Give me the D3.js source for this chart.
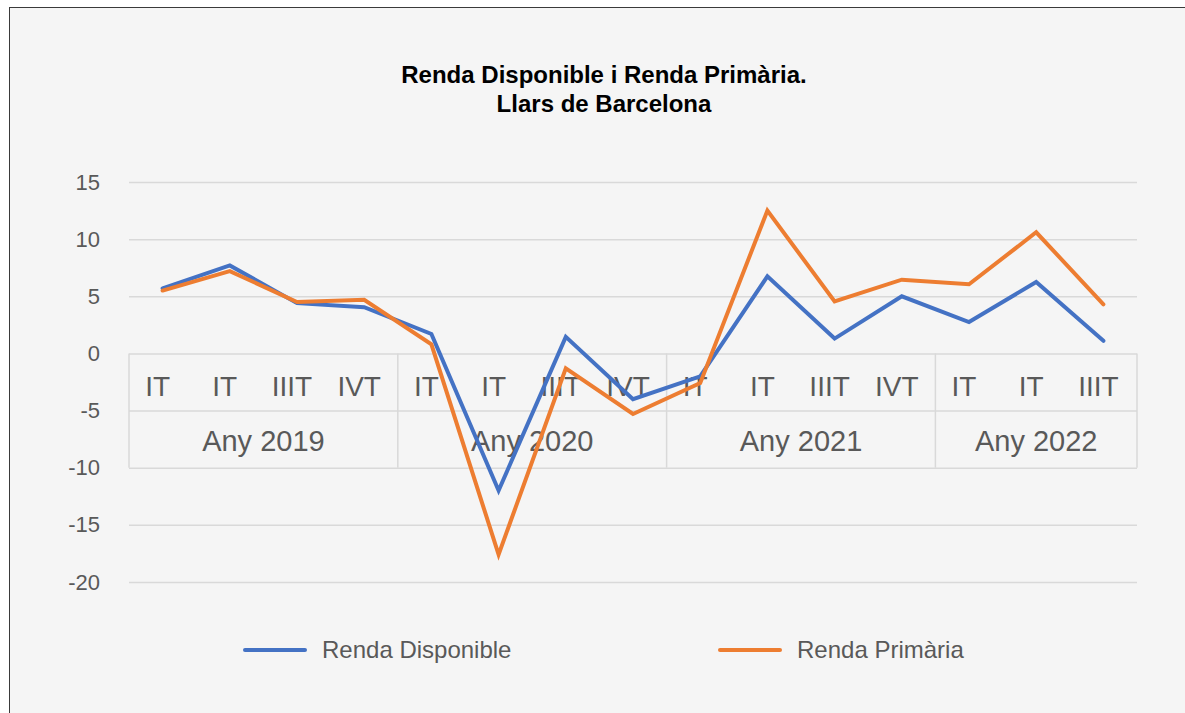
<!DOCTYPE html>
<html>
<head>
<meta charset="utf-8">
<script src="https://cdn.jsdelivr.net/npm/d3@7"></script>
<style>
  html, body { margin: 0; padding: 0; background: #ffffff; }
  svg { display: block; }
</style>
</head>
<body>
<svg id="chart" width="1185" height="713"></svg>
<script>
const quarters = ["IT","IT","IIIT","IVT","IT","IT","IIIT","IVT","IT","IT","IIIT","IVT","IT","IT","IIIT"];
const yearOf   = ["Any 2019","Any 2019","Any 2019","Any 2019","Any 2020","Any 2020","Any 2020","Any 2020","Any 2021","Any 2021","Any 2021","Any 2021","Any 2022","Any 2022","Any 2022"];
const years = ["Any 2019","Any 2020","Any 2021","Any 2022"];
const rendaDisponible = [5.7, 7.7, 4.4, 4.05, 1.7, -12.0, 1.45, -4.0, -2.0, 6.75, 1.3, 5.0, 2.75, 6.25, 1.1];
const rendaPrimaria   = [5.5, 7.2, 4.5, 4.7, 0.8, -17.6, -1.3, -5.3, -2.6, 12.5, 4.55, 6.45, 6.05, 10.6, 4.3];
const yTicks = [15, 10, 5, 0, -5, -10, -15, -20];
const seriesNames = ["Renda Disponible", "Renda Primària"];
const titleLines = ["Renda Disponible i Renda Primària.", "Llars de Barcelona"];

const svg = d3.select("#chart");
const colors = ["#4472C4", "#ED7D31"];
const textCol = "#595959";
const gridCol = "#d9d9d9";
const font = "'Liberation Sans', Arial, Helvetica, sans-serif";

// frame
svg.append("rect").attr("x", 9.5).attr("y", 7.5).attr("width", 1300).attr("height", 800)
  .attr("fill", "#f5f5f5").attr("stroke", "#3a3a3a").attr("stroke-width", 1);

const left = 129, right = 1137;
const x = d3.scaleBand().domain(d3.range(quarters.length)).range([left, right]).padding(0);
const y = d3.scaleLinear().domain([-20, 15]).range([582, 182]);
const cx = i => x(i) + x.bandwidth() / 2;

// title
svg.append("text").attr("y", 83).attr("text-anchor", "middle")
  .attr("font-family", font).attr("font-weight", "bold").attr("font-size", 24).attr("fill", "#000")
  .selectAll("tspan").data(titleLines).join("tspan")
  .attr("x", 604).attr("dy", (d, i) => i === 0 ? 0 : 29).text(d => d);

// y grid + labels
const yAxis = d3.axisLeft(y).tickValues(yTicks).tickSize(-(right - left)).tickPadding(29)
  .tickFormat(d => String(d));
const ga = svg.append("g").attr("transform", `translate(${left},0)`).call(yAxis);
ga.select(".domain").remove();
ga.selectAll(".tick line").attr("stroke", gridCol).attr("stroke-width", 1.5);
ga.selectAll(".tick text").attr("font-family", font).attr("font-size", 22).attr("fill", textCol);

// category table
const t0 = y(0), t1 = y(-5), t2 = y(-10);
const tbl = svg.append("g").attr("stroke", gridCol).attr("stroke-width", 1.5);
const yearStart = years.map(yr => yearOf.indexOf(yr));
const bounds = yearStart.map(i => x(i)).concat([right]);
tbl.selectAll("line.v").data(bounds).join("line")
  .attr("x1", d => d).attr("x2", d => d).attr("y1", t0).attr("y2", t2);

// quarter labels
svg.append("g").selectAll("text").data(quarters).join("text")
  .attr("x", (d, i) => cx(i) - 5).attr("y", (t0 + t1) / 2 + 14)
  .attr("text-anchor", "middle").attr("font-family", font).attr("font-size", 28).attr("fill", textCol)
  .text(d => d);

// year labels
svg.append("g").selectAll("text").data(years).join("text")
  .attr("x", (d, k) => (bounds[k] + bounds[k + 1]) / 2).attr("y", (t1 + t2) / 2 + 12)
  .attr("text-anchor", "middle").attr("font-family", font).attr("font-size", 29).attr("fill", textCol)
  .text(d => d);

// lines
const series = [rendaDisponible, rendaPrimaria];
const line = d3.line().x((d, i) => cx(i)).y(d => y(d));
svg.append("g").selectAll("path").data(series).join("path")
  .attr("d", d => line(d)).attr("fill", "none")
  .attr("stroke", (d, i) => colors[i]).attr("stroke-width", 4)
  .attr("stroke-linejoin", "miter").attr("stroke-linecap", "round");

// legend
const legendX = [245, 720];
const lg = svg.append("g").selectAll("g").data(seriesNames).join("g")
  .attr("transform", (d, i) => `translate(${legendX[i]},650)`);
lg.append("line").attr("x1", 0).attr("x2", 60).attr("y1", 0).attr("y2", 0)
  .attr("stroke", (d, i) => colors[i]).attr("stroke-width", 4).attr("stroke-linecap", "round");
lg.append("text").attr("x", 77).attr("y", 8).attr("font-family", font).attr("font-size", 24)
  .attr("fill", textCol).text(d => d);
</script>
</body>
</html>
